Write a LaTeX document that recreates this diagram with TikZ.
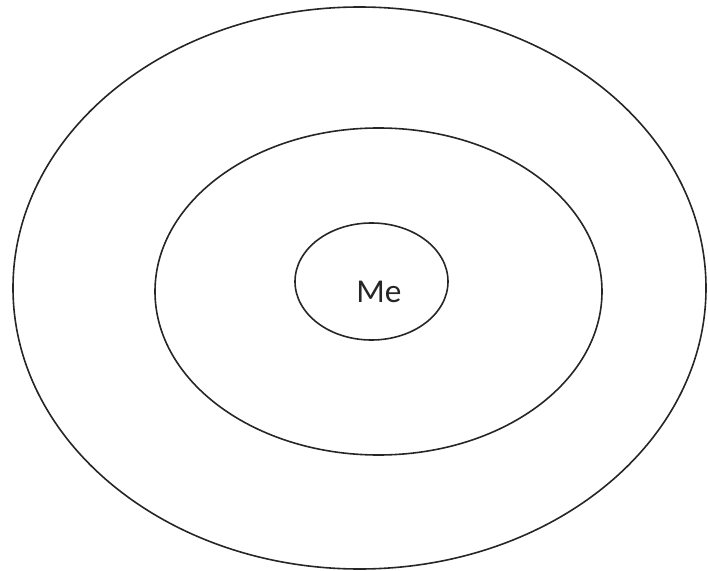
\documentclass[tikz,border=0pt]{standalone}
\usepackage{fontspec}
\setmainfont{Carlito}
\usetikzlibrary{shapes.geometric}

\begin{document}
\begin{tikzpicture}[
  x=0.75pt, y=-0.75pt,
  ring/.style={ellipse, draw=black!85, line width=1.2pt, inner sep=0pt},
  melabel/.style={font=\fontsize{25}{30}\selectfont, text=black!85, inner sep=0pt}
]
  \useasboundingbox (0,0) rectangle (708,571);
  \node[ring, minimum width=519.75pt, minimum height=421.5pt] (outer) at (359.5,288) {};
  \node[ring, minimum width=335.25pt, minimum height=245.25pt] (middle) at (378.5,291.5) {};
  \node[ring, minimum width=114.75pt, minimum height=87.75pt] (inner) at (371.5,281.5) {};
  \node[melabel] (me) at (379,292) {Me};
\end{tikzpicture}
\end{document}
